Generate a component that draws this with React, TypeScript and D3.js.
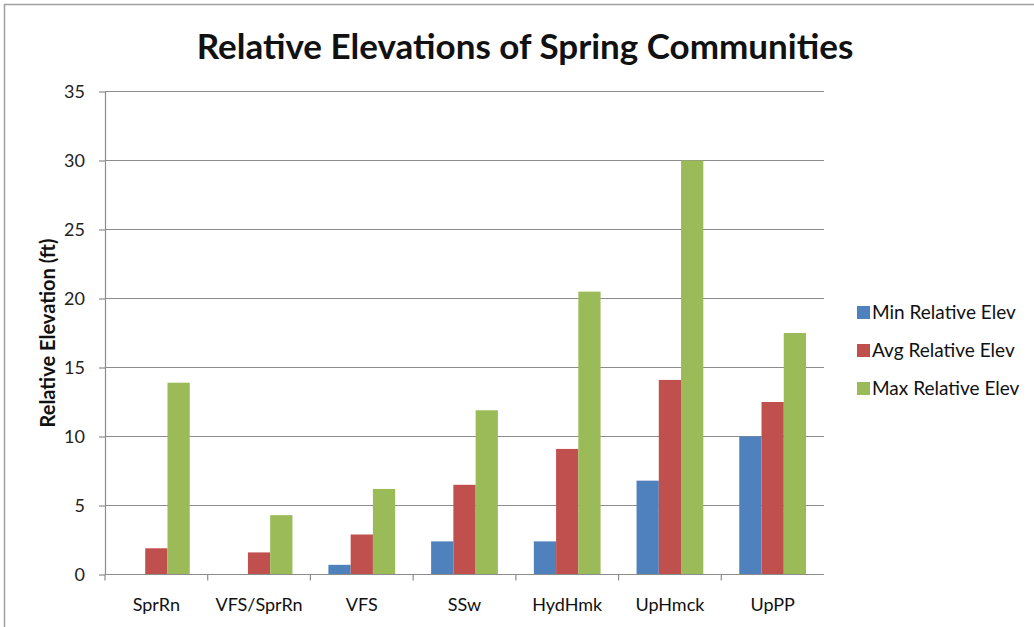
import React, { useEffect, useRef } from 'react';
import * as d3 from 'd3';

const categories = ['SprRn', 'VFS/SprRn', 'VFS', 'SSw', 'HydHmk', 'UpHmck', 'UpPP'];
const seriesNames = ['Min Relative Elev', 'Avg Relative Elev', 'Max Relative Elev'];
const minElev = [0, 0, 0.7, 2.4, 2.4, 6.8, 10];
const avgElev = [1.9, 1.6, 2.9, 6.5, 9.1, 14.1, 12.5];
const maxElev = [13.9, 4.3, 6.2, 11.9, 20.5, 30, 17.5];
const yTicks = [0, 5, 10, 15, 20, 25, 30, 35];

const colors = ['#4f81bd', '#c0504d', '#9bbb59'];
const FONT = 'Lato, "Open Sans", sans-serif';

const W = 1034;
const H = 627;

const App: React.FC = () => {
  const svgRef = useRef<SVGSVGElement>(null);

  useEffect(() => {
    if (!svgRef.current) return;
    const svg = d3.select(svgRef.current);
    svg.selectAll('*').remove();

    const margin = { top: 91.5, left: 105, right: W - 824, bottom: H - 574.5 };
    const innerW = W - margin.left - margin.right;
    const innerH = H - margin.top - margin.bottom;

    svg.append('rect').attr('width', W).attr('height', H).style('fill', '#fff');

    // outer chart border (only top and left visible in the picture)
    svg
      .append('rect')
      .attr('x', 4.5)
      .attr('y', 4.5)
      .attr('width', W + 20)
      .attr('height', H + 20)
      .style('fill', 'none')
      .style('stroke', '#a0a0a0')
      .style('stroke-width', 1.5);

    svg
      .append('text')
      .attr('x', 525)
      .attr('y', 59)
      .attr('text-anchor', 'middle')
      .style('font-family', FONT)
      .style('font-weight', '700')
      .style('font-size', '35px')
      .style('fill', '#111')
      .text('Relative Elevations of Spring Communities');

    const g = svg.append('g').attr('transform', `translate(${margin.left},${margin.top})`);

    const x0 = d3.scaleBand<string>().domain(categories).range([0, innerW]).padding(0);
    const groupW = x0.bandwidth() * 0.65;
    const x1 = d3
      .scaleBand<number>()
      .domain([0, 1, 2])
      .range([0, groupW])
      .padding(0);
    const y = d3.scaleLinear().domain([0, 35]).range([innerH, 0]);

    // gridlines
    g.selectAll('.grid')
      .data(yTicks)
      .enter()
      .append('line')
      .attr('x1', 0)
      .attr('x2', innerW)
      .attr('y1', (d) => y(d))
      .attr('y2', (d) => y(d))
      .style('stroke', '#8c8c8c')
      .style('stroke-width', 1.2);

    // bars
    const series = [minElev, avgElev, maxElev];
    const group = g
      .selectAll('.cat')
      .data(categories)
      .enter()
      .append('g')
      .attr('transform', (d) => `translate(${(x0(d) || 0) + (x0.bandwidth() - groupW) / 2},0)`);

    group
      .selectAll('rect')
      .data((_, i) => series.map((s, k) => ({ k, v: s[i] })))
      .enter()
      .append('rect')
      .attr('x', (d) => x1(d.k) || 0)
      .attr('width', x1.bandwidth())
      .attr('y', (d) => y(d.v))
      .attr('height', (d) => innerH - y(d.v))
      .style('fill', (d) => colors[d.k]);

    // y axis
    const yAxis = g
      .append('g')
      .call(d3.axisLeft(y).tickValues(yTicks).tickSize(6).tickSizeOuter(0).tickPadding(14));
    yAxis.select('.domain').style('stroke', '#8c8c8c').style('stroke-width', 1.2);
    yAxis.selectAll('.tick line').style('stroke', '#8c8c8c').style('stroke-width', 1.2);
    yAxis
      .selectAll('.tick text')
      .style('font-family', FONT)
      .style('font-size', '18px')
      .style('fill', '#222');

    // x axis
    const xAxis = g.append('g').attr('transform', `translate(0,${innerH})`);
    xAxis
      .append('line')
      .attr('x1', 0)
      .attr('x2', innerW)
      .style('stroke', '#8c8c8c')
      .style('stroke-width', 1.2);
    xAxis
      .selectAll('.xt')
      .data(categories)
      .enter()
      .append('line')
      .attr('x1', (d) => x0(d) || 0)
      .attr('x2', (d) => x0(d) || 0)
      .attr('y1', 0)
      .attr('y2', 6)
      .style('stroke', '#8c8c8c')
      .style('stroke-width', 1.2);
    xAxis
      .selectAll('.xl')
      .data(categories)
      .enter()
      .append('text')
      .attr('x', (d) => (x0(d) || 0) + x0.bandwidth() / 2)
      .attr('y', 36)
      .attr('text-anchor', 'middle')
      .style('font-family', FONT)
      .style('font-size', '18px')
      .style('fill', '#111')
      .text((d) => d);

    // y title
    svg
      .append('text')
      .attr('transform', 'translate(55,333) rotate(-90)')
      .attr('text-anchor', 'middle')
      .style('font-family', FONT)
      .style('font-weight', '700')
      .style('font-size', '20px')
      .style('fill', '#111')
      .text('Relative Elevation (ft)');

    // legend
    const legend = svg
      .selectAll('.legend')
      .data(seriesNames)
      .enter()
      .append('g')
      .attr('transform', (_, i) => `translate(857,${306 + i * 38})`);
    legend
      .append('rect')
      .attr('width', 13)
      .attr('height', 13)
      .style('fill', (_, i) => colors[i]);
    legend
      .append('text')
      .attr('x', 15)
      .attr('y', 13)
      .style('font-family', FONT)
      .style('font-size', '19px')
      .style('fill', '#111')
      .text((d) => d);
  }, []);

  return (
    <svg
      ref={svgRef}
      width={W}
      height={H}
      style={{ position: 'absolute', left: 0, top: 0, display: 'block' }}
    />
  );
};

export default App;
